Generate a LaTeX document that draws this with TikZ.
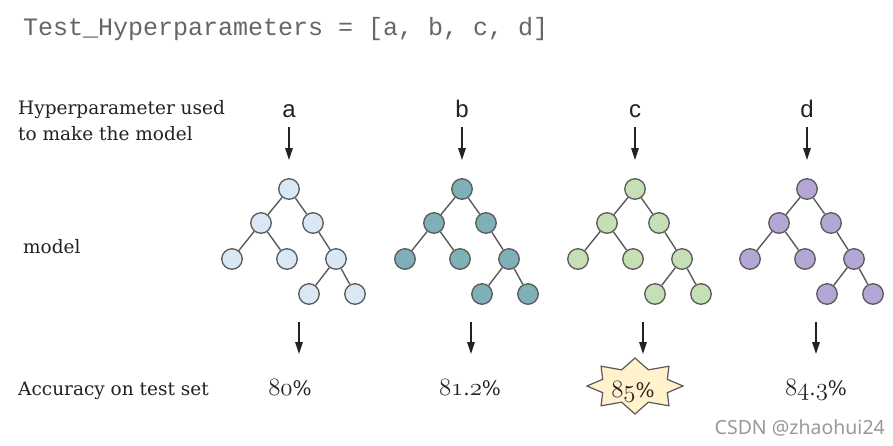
\documentclass[tikz,border=0pt]{standalone}
\usepackage{fontspec}
\newfontfamily\monofont{Liberation Mono}
\newfontfamily\arialfont{Liberation Sans}
\newfontfamily\wmfont{Noto Sans}
\newfontfamily\labfont{DejaVu Serif}
\newcommand{\osn}[1]{{\usefont{OML}{cmm}{m}{it}#1}}
\usetikzlibrary{arrows.meta}
\definecolor{cA}{HTML}{DAE8F6}
\definecolor{cB}{HTML}{7FAFB7}
\definecolor{cC}{HTML}{C5E0B4}
\definecolor{cD}{HTML}{B4A7D6}
\definecolor{outl}{HTML}{5A5A5A}
\definecolor{titlegray}{HTML}{666666}
\definecolor{txt}{HTML}{222222}
\definecolor{starfill}{HTML}{FFF2CC}
\tikzset{
  tn/.style={circle, draw=outl, line width=1.3pt, minimum size=20.5pt, inner sep=0pt},
  te/.style={draw=outl, line width=1.4pt},
  arr/.style={draw=txt, line width=1.3pt, -{Triangle[length=12pt,width=7.5pt]}},
  lbl/.style={anchor=base west, inner sep=0pt, text=txt, font=\labfont\fontsize{18.5}{26}\selectfont},
  hp/.style={anchor=base, inner sep=0pt, text=txt, font=\arialfont\fontsize{24}{28}\selectfont},
  acc/.style={anchor=base, inner sep=0pt, text=txt, font=\fontsize{26}{28}\selectfont},
  starbox/.style={draw=outl, line width=1.2pt, fill=starfill, line join=miter}
}
\newcommand{\pct}{{\labfont\fontsize{20}{24}\selectfont\%}}
\newcommand{\dt}{{\labfont\fontsize{20}{24}\selectfont.}}
\newcommand{\drawtree}[3]{%
  \begin{scope}[shift={(#2,189)}]
    \node[tn,fill=#3] (#1r) at (0,0) {};
    \node[tn,fill=#3] (#1l) at (-28,34) {};
    \node[tn,fill=#3] (#1R) at (24,34) {};
    \node[tn,fill=#3] (#1ll) at (-57,70) {};
    \node[tn,fill=#3] (#1lr) at (-2,70) {};
    \node[tn,fill=#3] (#1RR) at (47,70) {};
    \node[tn,fill=#3] (#1RRl) at (20,105) {};
    \node[tn,fill=#3] (#1RRr) at (66,105) {};
    \draw[te] (#1r) -- (#1l);
    \draw[te] (#1r) -- (#1R);
    \draw[te] (#1l) -- (#1ll);
    \draw[te] (#1l) -- (#1lr);
    \draw[te] (#1R) -- (#1RR);
    \draw[te] (#1RR) -- (#1RRl);
    \draw[te] (#1RR) -- (#1RRr);
  \end{scope}}
\begin{document}
\begin{tikzpicture}[x=1pt,y=-1pt]
\useasboundingbox[fill=white] (0,0) rectangle (893,445);

\node[anchor=base west, inner sep=0pt, text=titlegray, font=\monofont\fontsize{25}{28}\selectfont] (title) at (23,35) {Test\_Hyperparameters = [a, b, c, d]};

\node[lbl] (lab1) at (18,114) {Hyperparameter used};
\node[lbl] (lab2) at (18,140) {to make the model};
\node[lbl] (lab3) at (23,253) {model};
\node[lbl] (lab4) at (18,395) {Accuracy on test set};

% hyperparameter letters
\node[hp] (ha) at (289,117) {a};
\node[hp] (hb) at (462,117) {b};
\node[hp] (hc) at (635,117) {c};
\node[hp] (hd) at (807,117) {d};

% upper arrows
\foreach \n/\x in {a/289,b/462,c/635,d/807}{
  \coordinate (ut\n) at (\x,127);
  \coordinate (ub\n) at (\x,160);
  \draw[arr] (ut\n) -- (ub\n);
}

% trees
\drawtree{A}{289}{cA}
\drawtree{B}{462}{cB}
\drawtree{C}{635}{cC}
\drawtree{D}{807}{cD}

% lower arrows
\foreach \n/\x in {a/299,b/471,c/643,d/816}{
  \coordinate (lt\n) at (\x,322);
  \coordinate (lb\n) at (\x,354);
  \draw[arr] (lt\n) -- (lb\n);
}

% star
\begin{scope}[shift={(635,386)}]
  \draw[starbox] (90:48 and 28) \foreach \a in {0,45,...,315}{ -- ({\a+112.5}:35 and 17.5) -- ({\a+135}:48 and 28)} -- cycle;
\end{scope}

% accuracies
\node[acc] (acca) at (290,395) {\osn{80}\pct};
\node[acc] (accb) at (470,395) {\osn{81}\dt\osn{2}\pct};
\node[acc] (accc) at (633,397) {\osn{85}\pct};
\node[acc] (accd) at (816,395) {\osn{84}\dt\osn{3}\pct};

% watermark
\node[anchor=base east, inner sep=0pt, text=black!40, font=\wmfont\fontsize{19.5}{22}\selectfont] (wm) at (885,434) {CSDN @zhaohui24};
\end{tikzpicture}
\end{document}
